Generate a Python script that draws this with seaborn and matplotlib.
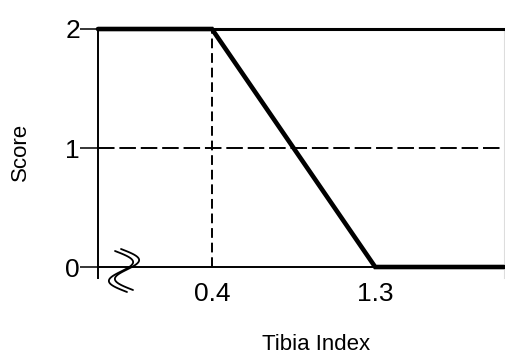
import numpy as np
import matplotlib
matplotlib.use("Agg")
import matplotlib.pyplot as plt
from matplotlib.lines import Line2D
import seaborn as sns

# ---- data ----
score_x = [-0.228, 0.4, 1.3, 2.01]
score_y = [2, 2, 0, 0]
x_ticks = [0.4, 1.3]
x_tick_labels = ["0.4", "1.3"]
y_ticks = [0, 1, 2]
y_tick_labels = ["0", "1", "2"]
threshold_x = 0.4
mid_score = 1
max_score = 2

sns.set_theme(style="white")
plt.rcParams["font.family"] = ["Liberation Sans", "DejaVu Sans"]

W, H = 505, 354
fig = plt.figure(figsize=(W / 100, H / 100), dpi=100)
ax = fig.add_axes([98 / W, 1 - 278 / H, (504 - 98) / W, (278 - 29) / H])

sns.lineplot(x=score_x, y=score_y, ax=ax, color="black", lw=3.3,
             solid_joinstyle="miter", clip_on=False, zorder=5)

ax.axhline(mid_score, color="black", lw=1.4, ls=(0, (8.5, 2.5)), zorder=3)
ax.plot([threshold_x, threshold_x], [0, max_score], color="black", lw=1.4,
        ls=(0, (5, 2.5)), zorder=3)

ax.set_xlim(score_x[0], score_x[-1])
ax.set_ylim(-0.0924, max_score)

ax.set_xticks(x_ticks)
ax.set_xticklabels(x_tick_labels)
ax.set_yticks(y_ticks)
ax.set_yticklabels(y_tick_labels)
ax.tick_params(axis="x", length=0, pad=11, labelsize=19, colors="black")
ax.tick_params(axis="y", length=13, width=1.1, pad=0, labelsize=19,
               colors="black", left=True)

for s in ["left", "bottom", "top"]:
    ax.spines[s].set_visible(True)
    ax.spines[s].set_color("black")
ax.spines["left"].set_linewidth(1.4)
ax.spines["bottom"].set_linewidth(1.4)
ax.spines["bottom"].set_position(("data", 0))
ax.spines["top"].set_linewidth(2.2)
ax.spines["right"].set_color("#dddddd")
ax.spines["right"].set_linewidth(0.8)

ax.set_xlabel("Tibia Index", fontsize=16, color="black")
ax.set_ylabel("Score", fontsize=16, color="black")
ax.xaxis.set_label_coords((316 - 98) / 406, (278 - 345) / 249)
ax.xaxis.label.set_va("center")
ax.yaxis.set_label_coords((20 - 98) / 406, (278 - 152) / 249)
ax.yaxis.label.set_va("center")

# axis-break symbol (decoration)
s = np.linspace(0, 1, 80)
for dx, dy in [(0, 0), (6, -2)]:
    px = 115 + dx + 12 * s + 15 * np.sin(2 * np.pi * s)
    py = 251 + dy + 41 * s
    fig.add_artist(Line2D(px / W, 1 - py / H, transform=fig.transFigure,
                          color="black", lw=1.3))

fig.savefig("out.png", dpi=100, facecolor="white")
